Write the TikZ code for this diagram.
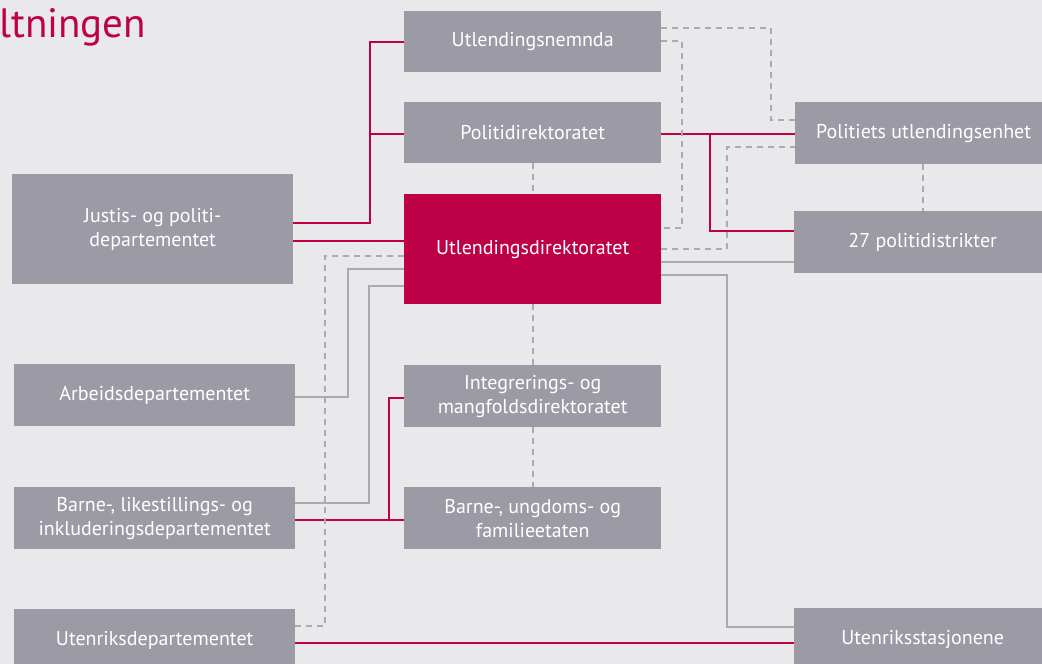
\documentclass[tikz,border=0pt]{standalone}
\usepackage{fontspec}
\setmainfont{PT Sans}
\definecolor{bg}{HTML}{E9E9EB}
\definecolor{boxgray}{HTML}{9C9AA5}
\definecolor{udired}{HTML}{BE0047}
\definecolor{linegray}{HTML}{ABABAD}
\begin{document}
\begin{tikzpicture}[x=1pt,y=-1pt,
  org/.style={draw=none,fill=boxgray,text=white,inner sep=0pt,anchor=north west,align=center,font=\fontsize{20}{24}\selectfont},
  redl/.style={draw=udired,line width=2pt},
  grayl/.style={draw=linegray,line width=2pt},
  dashl/.style={draw=linegray,line width=2pt,dash pattern=on 6pt off 5pt}]
\fill[bg] (0,0) rectangle (1042,664);
\useasboundingbox (0,0) rectangle (1042,664);
\node[anchor=base west,text=udired,inner sep=0pt,font=\fontsize{41}{44}\selectfont] (title) at (-1,37) {ltningen};
% left column
\node[org,minimum width=281pt,minimum height=110pt] (jus) at (12,174) {Justis- og politi-\\departementet};
\node[org,minimum width=281pt,minimum height=62pt] (ad) at (14,364) {Arbeidsdepartementet};
\node[org,minimum width=281pt,minimum height=62pt] (blid) at (14,487) {Barne-, likestillings- og\\inkluderingsdepartementet};
\node[org,minimum width=281pt,minimum height=62pt] (ud) at (14,609) {Utenriksdepartementet};
% middle column
\node[org,minimum width=257pt,minimum height=61pt] (nemnda) at (404,11) {Utlendingsnemnda};
\node[org,minimum width=257pt,minimum height=61pt] (polit) at (404,102) {Politidirektoratet};
\node[org,fill=udired,minimum width=257pt,minimum height=110pt] (udi) at (404,194) {Utlendingsdirektoratet};
\node[org,minimum width=257pt,minimum height=62pt] (imdi) at (404,365) {Integrerings- og\\mangfoldsdirektoratet};
\node[org,minimum width=257pt,minimum height=62pt] (bufdir) at (404,487) {Barne-, ungdoms- og\\familieetaten};
% right column
\node[org,minimum width=257pt,minimum height=62pt] (pue) at (795,102) {Politiets utlendingsenhet};
\node[org,minimum width=257pt,minimum height=62pt] (pd) at (794,211) {27 politidistrikter};
\node[org,minimum width=257pt,minimum height=62pt] (us) at (794,608) {Utenriksstasjonene};
% helper heights
\foreach \h in {28,41,42,120,134,147,223,228,231,241,249,256,262,269,275,286,397,398,503,520,626,627,643}{\coordinate (h\h) at (0,\h);}
\coordinate (v923) at (923,0);
% red lines
\draw[redl] (jus.east |- h223) -- (370,223) -- (370,42) -- (nemnda.west |- h42);
\draw[redl] (370,134) -- (polit.west |- h134);
\draw[redl] (jus.east |- h241) -- (udi.west |- h241);
\draw[redl] (polit.east |- h134) -- (pue.west |- h134);
\draw[redl] (710,134) -- (710,231) -- (pd.west |- h231);
\draw[redl] (blid.east |- h520) -- (bufdir.west |- h520);
\draw[redl] (389,520) -- (389,398) -- (imdi.west |- h398);
\draw[redl] (ud.east |- h643) -- (us.west |- h643);
% gray solid
\draw[grayl] (ad.east |- h397) -- (348,397) -- (348,269) -- (udi.west |- h269);
\draw[grayl] (blid.east |- h503) -- (369,503) -- (369,286) -- (udi.west |- h286);
\draw[grayl] (udi.east |- h262) -- (pd.west |- h262);
\draw[grayl] (udi.east |- h275) -- (727,275) -- (727,627) -- (us.west |- h627);
% dashed
\draw[dashl] (nemnda.east |- h28) -- (771,28) -- (771,120) -- (pue.west |- h120);
\draw[dashl] (nemnda.east |- h41) -- (682,41) -- (682,228) -- (udi.east |- h228);
\draw[dashl] (udi.east |- h249) -- (727,249) -- (727,147) -- (pue.west |- h147);
\draw[dashl] (pue.south -| v923) -- (pd.north -| v923);
\draw[dashl] (polit.south) -- (udi.north);
\draw[dashl] (udi.south) -- (imdi.north);
\draw[dashl] (imdi.south) -- (bufdir.north);
\draw[dashl] (ud.east |- h626) -- (325,626) -- (325,256) -- (udi.west |- h256);
\end{tikzpicture}
\end{document}
